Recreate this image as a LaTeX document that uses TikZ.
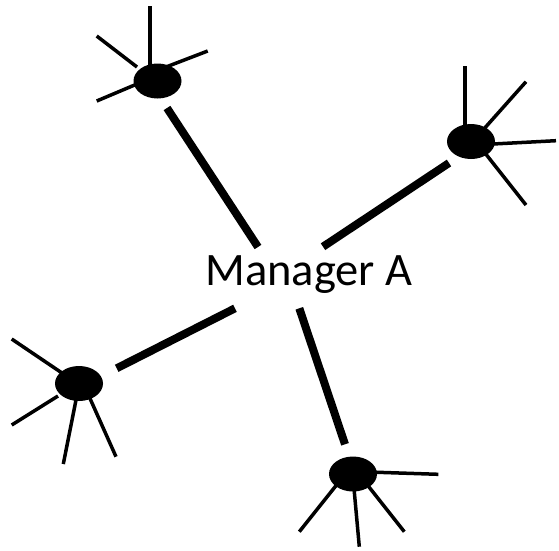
\documentclass[tikz,border=0pt]{standalone}
\usepackage{fontspec}
\setmainfont{Carlito}
\usetikzlibrary{shapes.geometric}
\begin{document}
\begin{tikzpicture}[x=1pt,y=-1pt,
  hub/.style={ellipse, fill=black, draw=none, minimum width=48pt, minimum height=35pt, inner sep=0pt},
  spoke/.style={line width=3.5pt, line cap=butt},
  link/.style={line width=8pt, line cap=butt},
  label/.style={font=\fontsize{46.5}{50}\selectfont, inner sep=0pt, anchor=base}]
\useasboundingbox (0,0) rectangle (559,550);
% spoke and link end points
\coordinate (t1a) at (150,6);    \coordinate (t1b) at (150,67);
\coordinate (t2a) at (96.7,36);  \coordinate (t2b) at (137,67);
\coordinate (t3a) at (207.7,51); \coordinate (t3b) at (166,67);
\coordinate (t4a) at (96.7,101); \coordinate (t4b) at (137,84);
\coordinate (tla) at (167,108);  \coordinate (tlb) at (258,247);
\coordinate (r1a) at (465,66);   \coordinate (r1b) at (465,127);
\coordinate (r2a) at (526,81.7); \coordinate (r2b) at (483,130);
\coordinate (r3a) at (556,140.7);\coordinate (r3b) at (493,144);
\coordinate (r4a) at (526,205);  \coordinate (r4b) at (485,153);
\coordinate (rla) at (449,163);  \coordinate (rlb) at (323,246.7);
\coordinate (l1a) at (11.7,339); \coordinate (l1b) at (62,373);
\coordinate (l2a) at (11.7,425); \coordinate (l2b) at (58,396);
\coordinate (l3a) at (63.3,464); \coordinate (l3b) at (76.4,398);
\coordinate (l4a) at (116,456.7);\coordinate (l4b) at (89.8,398);
\coordinate (lla) at (116.7,368.3); \coordinate (llb) at (235,308.3);
\coordinate (b1a) at (438.3,474.3); \coordinate (b1b) at (375,472.2);
\coordinate (b2a) at (299.3,531.7); \coordinate (b2b) at (336.5,485);
\coordinate (b3a) at (359.3,546.7); \coordinate (b3b) at (354.1,489.5);
\coordinate (b4a) at (404.3,531.7); \coordinate (b4b) at (368.7,486.6);
\coordinate (bla) at (299.3,308.3); \coordinate (blb) at (345,444.3);
% spokes
\foreach \p in {t1,t2,t3,t4,r1,r2,r3,r4,l1,l2,l3,l4,b1,b2,b3,b4}
  \draw[spoke] (\p a) -- (\p b);
% hubs
\node[hub] (top) at (157.5,81) {};
\node[hub] (right) at (471,141.5) {};
\node[hub] (left) at (79,383.5) {};
\node[hub] (bottom) at (353,474) {};
% centre label
\node[label] (mgr) at (309,285) {Manager A};
% links
\draw[link] (tla) -- (tlb);
\draw[link] (rla) -- (rlb);
\draw[link] (lla) -- (llb);
\draw[link] (bla) -- (blb);
\end{tikzpicture}
\end{document}
